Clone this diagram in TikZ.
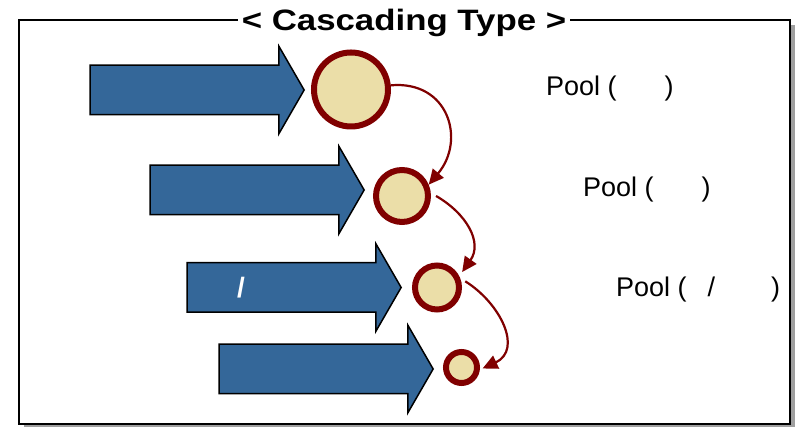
\documentclass[tikz,border=0pt]{standalone}
\usepackage{fontspec}
\setmainfont{Liberation Sans}
\newfontfamily\titlefont[FakeStretch=1.18]{Liberation Sans}
\usetikzlibrary{shapes.arrows,arrows.meta}
\definecolor{feedblue}{RGB}{52,103,153}
\definecolor{pooledge}{RGB}{128,0,0}
\definecolor{poolfill}{RGB}{235,222,168}
\begin{document}
\begin{tikzpicture}[x=1pt, y=1pt,
	feed/.style={single arrow, draw=black, line width=1.5pt, fill=feedblue, inner xsep=0pt, inner ysep=24pt, minimum width=86pt, minimum height=214pt, single arrow head extend=19pt, single arrow tip angle=120},
	pool/.style={circle, draw=pooledge, line width=6pt, fill=poolfill, inner sep=0pt},
	hop/.style={draw=pooledge, line width=2.2pt, -{Triangle[length=15pt, width=14pt]}},
	caption/.style={anchor=base west, inner sep=0pt, font=\fontsize{27}{27}\selectfont}]
	\useasboundingbox (0,0) rectangle (796,427);
	\fill[gray!75] (24,-3) rectangle (795,402);
	\draw[line width=2pt, fill=white] (19,3) rectangle (790,407);
	\node[fill=white, inner xsep=4pt, inner ysep=1pt, anchor=base, font=\titlefont\bfseries\fontsize{29.5}{30}\selectfont] (title) at (404,396.5) {< Cascading Type >};
	\node[feed] (in1) at (190,337) {};
	\node[feed] (in2) at (250,237) {};
	\node[feed] (in3) at (287,139.5) {};
	\node[feed] (in4) at (319,58) {};
	\node[text=white, font=\bfseries\fontsize{28}{28}\selectfont] (cut) at (241,139.5) {/};
	\node[pool, minimum size=74pt] (p1) at (351,337.5) {};
	\node[pool, minimum size=52pt] (p2) at (402,231) {};
	\node[pool, minimum size=44pt] (p3) at (437,139.5) {};
	\node[pool, minimum size=31pt] (p4) at (461.5,59.5) {};
	\node[caption] (t1) at (546,331.3) {Pool (\hspace{48pt})};
	\node[caption] (t2) at (583,230.3) {Pool (\hspace{48pt})};
	\node[caption] (t3) at (616,130.3) {Pool (\hspace{21pt}/\hspace{56pt})};
	\draw[hop] (p1.6) to[out=5, in=50, looseness=1.4] (p2.23);
	\draw[hop, shorten <=6pt, shorten >=5pt] (p2.6) to[out=-30, in=55, looseness=1.2] (p3.27);
	\draw[hop, shorten <=6pt, shorten >=3pt] (p3.22) to[out=-32, in=25, looseness=1.3] (p4.-7);
\end{tikzpicture}
\end{document}
